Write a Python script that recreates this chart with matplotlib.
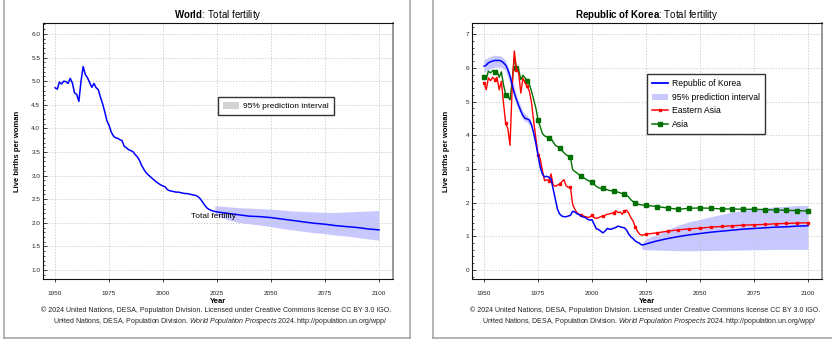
import matplotlib
matplotlib.use("Agg")
import matplotlib.pyplot as plt
from matplotlib.lines import Line2D
from matplotlib.patches import Patch
from matplotlib.ticker import MultipleLocator, FormatStrFormatter

plt.rcParams['font.family'] = ['Liberation Sans', 'DejaVu Sans']
plt.rcParams['mathtext.fontset'] = 'custom'
plt.rcParams['mathtext.rm'] = 'Liberation Sans'
plt.rcParams['mathtext.it'] = 'Liberation Sans:italic'
plt.rcParams['mathtext.bf'] = 'Liberation Sans:bold'

# --- data ---
years_hist = list(range(1950, 2025))
years_proj = list(range(2025, 2101, 5))
years = years_hist + years_proj

world_hist = [4.86, 4.83, 4.98, 4.94, 5.00, 4.99, 4.95, 5.06, 4.96, 4.75,
              4.72, 4.57, 5.00, 5.31, 5.14, 5.07, 4.97, 4.87, 4.95, 4.86,
              4.82, 4.66, 4.52, 4.35, 4.16, 4.06, 3.92, 3.84, 3.80, 3.79,
              3.76, 3.74, 3.62, 3.59, 3.55, 3.53, 3.51, 3.45, 3.40, 3.33,
              3.22, 3.14, 3.07, 3.02, 2.98, 2.94, 2.90, 2.86, 2.83, 2.80,
              2.78, 2.76, 2.70, 2.68, 2.67, 2.66, 2.65, 2.65, 2.64, 2.63,
              2.62, 2.62, 2.61, 2.60, 2.59, 2.58, 2.56, 2.52, 2.46, 2.39,
              2.33, 2.29, 2.27, 2.25, 2.24]
world_proj = [2.23, 2.20, 2.17, 2.14, 2.13, 2.11, 2.08, 2.05, 2.02, 1.99,
              1.97, 1.94, 1.92, 1.90, 1.87, 1.85]
world = world_hist + world_proj

world_band_years = [2024] + years_proj
world_upper = [2.36, 2.36, 2.34, 2.32, 2.31, 2.30, 2.29, 2.27, 2.25, 2.24,
               2.23, 2.22, 2.22, 2.23, 2.24, 2.25, 2.26]
world_lower = [2.18, 2.15, 2.06, 2.01, 1.98, 1.95, 1.92, 1.88, 1.85, 1.82,
               1.79, 1.77, 1.74, 1.72, 1.69, 1.66, 1.63]

korea_hist = [6.05, 6.08, 6.15, 6.18, 6.20, 6.22, 6.22, 6.22, 6.20, 6.15,
              6.08, 5.95, 5.75, 5.50, 5.25, 5.05, 4.88, 4.72, 4.58, 4.50,
              4.48, 4.45, 4.30, 4.05, 3.75, 3.40, 3.05, 2.85, 2.76, 2.78,
              2.75, 2.70, 2.40, 2.10, 1.80, 1.66, 1.60, 1.58, 1.58, 1.60,
              1.62, 1.74, 1.72, 1.67, 1.64, 1.60, 1.57, 1.55, 1.50, 1.48,
              1.49, 1.35, 1.22, 1.20, 1.15, 1.10, 1.15, 1.23, 1.21, 1.21,
              1.24, 1.26, 1.30, 1.28, 1.26, 1.25, 1.18, 1.06, 0.98, 0.93,
              0.86, 0.82, 0.79, 0.74, 0.75]
korea_proj = [0.77, 0.86, 0.93, 0.99, 1.04, 1.08, 1.12, 1.15, 1.18, 1.21,
              1.23, 1.25, 1.27, 1.28, 1.30, 1.31]
korea = korea_hist + korea_proj

korea_hband_years = [1950, 1953, 1955, 1958, 1960, 1963, 1965, 1968, 1970, 1972, 1975, 1977]
korea_hband_upper = [6.25, 6.34, 6.38, 6.35, 6.22, 5.66, 5.18, 4.70, 4.58, 4.38, 3.45, 2.85]
korea_hband_lower = [5.88, 5.97, 6.02, 6.02, 5.92, 5.34, 4.90, 4.46, 4.38, 4.22, 3.35, 2.85]

korea_band_years = [2023, 2024] + years_proj
korea_upper = [0.76, 0.85, 0.92, 1.05, 1.20, 1.33, 1.43, 1.50, 1.58, 1.65,
               1.72, 1.77, 1.81, 1.84, 1.87, 1.89, 1.91, 1.92]
korea_lower = [0.62, 0.60, 0.60, 0.59, 0.58, 0.57, 0.57, 0.57, 0.58, 0.58,
               0.59, 0.59, 0.60, 0.60, 0.61, 0.61, 0.61, 0.61]

easia_hist = [5.55, 5.35, 5.70, 5.62, 5.72, 5.65, 5.72, 5.35, 5.60, 4.95,
              4.35, 4.20, 3.70, 5.40, 6.50, 5.95, 5.85, 5.25, 5.70, 5.55,
              5.45, 5.30, 4.95, 4.40, 3.90, 3.40, 3.30, 2.95, 2.65, 2.68,
              2.65, 2.85, 2.52, 2.48, 2.52, 2.55, 2.62, 2.68, 2.50, 2.45,
              2.45, 1.95, 1.80, 1.70, 1.65, 1.62, 1.60, 1.58, 1.56, 1.57,
              1.62, 1.55, 1.53, 1.55, 1.58, 1.60, 1.62, 1.65, 1.66, 1.68,
              1.70, 1.76, 1.70, 1.72, 1.65, 1.76, 1.77, 1.68, 1.55, 1.45,
              1.28, 1.15, 1.06, 1.03, 1.04]
easia_proj = [1.06, 1.10, 1.15, 1.19, 1.22, 1.24, 1.27, 1.29, 1.31, 1.33,
              1.34, 1.35, 1.37, 1.38, 1.39, 1.40]
easia = easia_hist + easia_proj

asia_hist = [5.72, 5.68, 5.90, 5.85, 5.92, 5.88, 5.90, 5.72, 5.88, 5.50,
             5.20, 5.15, 5.05, 5.60, 6.30, 6.00, 5.95, 5.65, 5.78, 5.70,
             5.62, 5.50, 5.30, 5.05, 4.80, 4.45, 4.25, 4.05, 3.98, 3.95,
             3.93, 3.90, 3.80, 3.70, 3.66, 3.63, 3.55, 3.48, 3.42, 3.38,
             3.34, 2.98, 2.92, 2.88, 2.82, 2.78, 2.74, 2.70, 2.66, 2.63,
             2.60, 2.54, 2.48, 2.44, 2.42, 2.42, 2.40, 2.38, 2.36, 2.35,
             2.34, 2.33, 2.31, 2.29, 2.26, 2.24, 2.22, 2.16, 2.08, 2.03,
             2.00, 1.96, 1.94, 1.93, 1.92]
asia_proj = [1.92, 1.88, 1.84, 1.80, 1.83, 1.84, 1.83, 1.81, 1.81, 1.80,
             1.80, 1.79, 1.78, 1.77, 1.76, 1.75]
asia = asia_hist + asia_proj

marks = [i for i, y in enumerate(years) if y % 5 == 0]

credit1 = "\u00a9 2024 United Nations, DESA, Population Division. Licensed under Creative Commons license CC BY 3.0 IGO."
credit2 = (r"United Nations, DESA, Population Division. "
           r"$\it{World\ Population\ Prospects\ 2024}$. http://population.un.org/wpp/")

BAND = '#c8c8ff'
GRID = '#c4c4c4'


def style_axes(ax, ymin, ymax, ymajor, yminor, fmt):
    ax.set_xlim(1944.4, 2106.5)
    ax.set_ylim(ymin, ymax)
    ax.xaxis.set_major_locator(MultipleLocator(25))
    ax.yaxis.set_major_locator(MultipleLocator(ymajor))
    ax.yaxis.set_minor_locator(MultipleLocator(yminor))
    ax.yaxis.set_major_formatter(FormatStrFormatter(fmt))
    ax.grid(True, which='major', color=GRID, linestyle=(0, (1.5, 2)), linewidth=0.6)
    ax.tick_params(axis='x', direction='out', length=2.5, width=0.6, pad=6,
                   labelsize=4.6, colors='#222222')
    ax.tick_params(axis='y', which='major', direction='in', length=3, width=0.6,
                   pad=2, labelsize=4.6, colors='#222222')
    ax.tick_params(axis='y', which='minor', direction='in', length=1.5, width=0.5)
    for s in ['left', 'bottom', 'top']:
        ax.spines[s].set_color('#111111')
        ax.spines[s].set_linewidth(0.8)
    ax.spines['right'].set_color('#999999')
    ax.spines['right'].set_linewidth(1.4)
    ax.text(-0.072, 0.5, "Live births per woman", transform=ax.transAxes,
            rotation=90, ha='center', va='center', fontsize=5.5, fontweight='bold')
    ax.text(0.5, -0.089, "Year", transform=ax.transAxes, ha='center', va='center',
            fontsize=5.5, fontweight='bold')
    ax.text(0.495, -0.121, credit1, transform=ax.transAxes, ha='center', va='center',
            fontsize=5, color='#222222')
    ax.text(0.505, -0.167, credit2, transform=ax.transAxes, ha='center', va='center',
            fontsize=5, color='#222222')


fig = plt.figure(figsize=(8.32, 3.39), dpi=100)
ax1 = fig.add_axes([0.0517, 0.177, 0.4207, 0.755])
ax2 = fig.add_axes([0.5673, 0.177, 0.4207, 0.755])

# --- World ---
ax1.fill_between(world_band_years, world_lower, world_upper, color=BAND, lw=0)
ax1.plot(years, world, color='#0000ff', lw=1.1)
ax1.text(2013, 2.14, "Total fertility", fontsize=6, va='center', ha='left')
style_axes(ax1, 0.81, 6.23, 0.5, 0.1, '%.1f')
ax1.text(0.5, 1.032, r"$\bf{World}$: Total fertility", transform=ax1.transAxes,
         ha='center', va='center', fontsize=7)
leg1 = ax1.legend(handles=[Patch(facecolor='#d3d3d3', edgecolor='none',
                                 label='95% prediction interval')],
                  loc='upper left', bbox_to_anchor=(0.5, 0.711), fontsize=6,
                  fancybox=False, framealpha=1, edgecolor='#333333',
                  handlelength=2.0, handleheight=0.9, handletextpad=0.5,
                  borderpad=0.55, borderaxespad=0)
leg1.get_frame().set_linewidth(1.0)

# --- Korea ---
ax2.fill_between(korea_hband_years, korea_hband_lower, korea_hband_upper, color=BAND, lw=0)
ax2.fill_between(korea_band_years, korea_lower, korea_upper, color=BAND, lw=0)
ax2.plot(years, asia, color='#007000', lw=1.0, marker='s', markersize=3.2,
         markevery=marks)
ax2.plot(years, easia, color='#ff0000', lw=1.0, marker='s', markersize=2,
         markevery=marks)
ax2.plot(years, korea, color='#0000ff', lw=1.1)
style_axes(ax2, -0.27, 7.33, 1, 0.2, '%d')
ax2.text(0.5, 1.032, r"$\bf{Republic\ of\ Korea}$: Total fertility",
         transform=ax2.transAxes, ha='center', va='center', fontsize=7)
handles = [Line2D([], [], color='#0000ff', lw=1.3, label='Republic of Korea'),
           Patch(facecolor=BAND, edgecolor='none', label='95% prediction interval'),
           Line2D([], [], color='#ff0000', lw=1.1, marker='s', markersize=2,
                  label='Eastern Asia'),
           Line2D([], [], color='#007000', lw=1.1, marker='s', markersize=3,
                  label='Asia')]
leg2 = ax2.legend(handles=handles, loc='upper left', bbox_to_anchor=(0.5, 0.80),
                  fontsize=6.2, fancybox=False, framealpha=1, edgecolor='#333333',
                  handlelength=1.9, handletextpad=0.5, labelspacing=0.55,
                  borderpad=0.55, borderaxespad=0)
leg2.get_frame().set_linewidth(1.0)

# panel borders
for xs, ys in [([4, 4], [0, 337.5]), ([409.5, 409.5], [0, 337.5]),
               ([4, 409.5], [337.5, 337.5]), ([433, 433], [0, 337.5]),
               ([433, 832], [337.5, 337.5])]:
    fig.add_artist(Line2D([x / 832 for x in xs], [1 - y / 339 for y in ys],
                          transform=fig.transFigure, color='#a0a0a0', lw=1.1))

fig.savefig("out.png", dpi=100)
